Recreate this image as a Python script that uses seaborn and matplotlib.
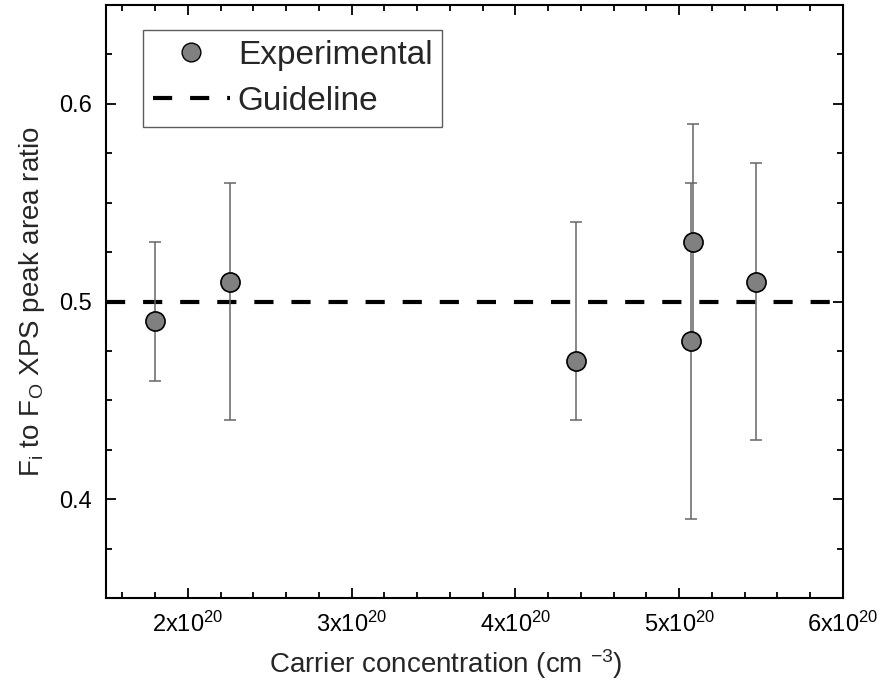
import matplotlib
matplotlib.use("Agg")
import matplotlib.pyplot as plt
import seaborn as sns
import numpy as np
import pandas as pd
from matplotlib.ticker import MultipleLocator, FuncFormatter
from matplotlib.lines import Line2D

# Data
carrier = [1.80e20, 2.26e20, 4.37e20, 5.07e20, 5.085e20, 5.47e20]
ratio = [0.49, 0.51, 0.47, 0.48, 0.53, 0.51]
err_low = [0.03, 0.07, 0.03, 0.09, 0.05, 0.08]
err_high = [0.04, 0.05, 0.07, 0.08, 0.06, 0.06]
guideline = 0.5
x_ticks = [2e20, 3e20, 4e20, 5e20, 6e20]
y_ticks = [0.4, 0.5, 0.6]

df = pd.DataFrame({"carrier": carrier, "ratio": ratio})

sns.set_style("ticks")
plt.rcParams['font.family'] = ['Liberation Sans', 'DejaVu Sans']
plt.rcParams['mathtext.fontset'] = 'custom'
plt.rcParams['mathtext.rm'] = 'Liberation Sans'
plt.rcParams['mathtext.it'] = 'Liberation Sans'

fig = plt.figure(figsize=(8.8, 6.94), dpi=100)
ax = fig.add_axes([106/880, 96/694, 737/880, 593/694])

ax.errorbar(carrier, ratio, yerr=[err_low, err_high], fmt='none',
            ecolor='#666666', elinewidth=1.1, capsize=4.5, capthick=1.1, zorder=2)
ax.axhline(guideline, color='black', lw=3.0, dashes=(4.6, 4.3), zorder=1)
sns.scatterplot(data=df, x="carrier", y="ratio", ax=ax, s=190, color='#808080',
                edgecolor='black', linewidth=1.2, zorder=3, legend=False)

ax.set_xlim(1.5e20, 6e20)
ax.set_ylim(0.35, 0.65)
ax.set_xticks(x_ticks)
ax.set_yticks(y_ticks)
ax.xaxis.set_minor_locator(MultipleLocator(0.2e20))
ax.yaxis.set_minor_locator(MultipleLocator(0.025))

def xfmt(v, pos):
    m = v / 1e20
    return r"%dx10$^{\mathregular{20}}$" % round(m)
ax.xaxis.set_major_formatter(FuncFormatter(xfmt))
ax.yaxis.set_major_formatter(FuncFormatter(lambda v, p: "%g" % v))

ax.tick_params(which='both', direction='in', top=True, right=True,
               labelsize=17, width=1.3, colors='black')
ax.tick_params(axis='x', pad=10)
ax.tick_params(axis='y', pad=10)
ax.tick_params(which='major', length=7.5)
ax.tick_params(which='minor', length=4)
for s in ax.spines.values():
    s.set_linewidth(1.5)
    s.set_color('black')

ax.set_xlabel(r"Carrier concentration (cm $^{\mathregular{-3}}$)", fontsize=20, va='center')
ax.xaxis.set_label_coords(0.461, -0.111)
ax.set_ylabel(r"F$_{\mathregular{i}}$ to F$_{\mathregular{O}}$ XPS peak area ratio",
              fontsize=20, va='center')
ax.yaxis.set_label_coords(-0.100, 0.5)

handles = [
    Line2D([], [], marker='o', linestyle='none', markersize=13.5,
           markerfacecolor='#808080', markeredgecolor='black', markeredgewidth=1.0),
    Line2D([], [], color='black', lw=3.0, dashes=(4.6, 4.3)),
]
leg = ax.legend(handles, ["Experimental", "Guideline"], loc='upper left',
                bbox_to_anchor=(0.05, 0.958), borderaxespad=0, fontsize=24,
                frameon=True, fancybox=False, handlelength=2.3, handletextpad=0.25,
                labelspacing=0.45, borderpad=0.3)
leg.get_frame().set_edgecolor('#333333')
leg.get_frame().set_linewidth(1.0)

fig.savefig("out.png", dpi=100)
